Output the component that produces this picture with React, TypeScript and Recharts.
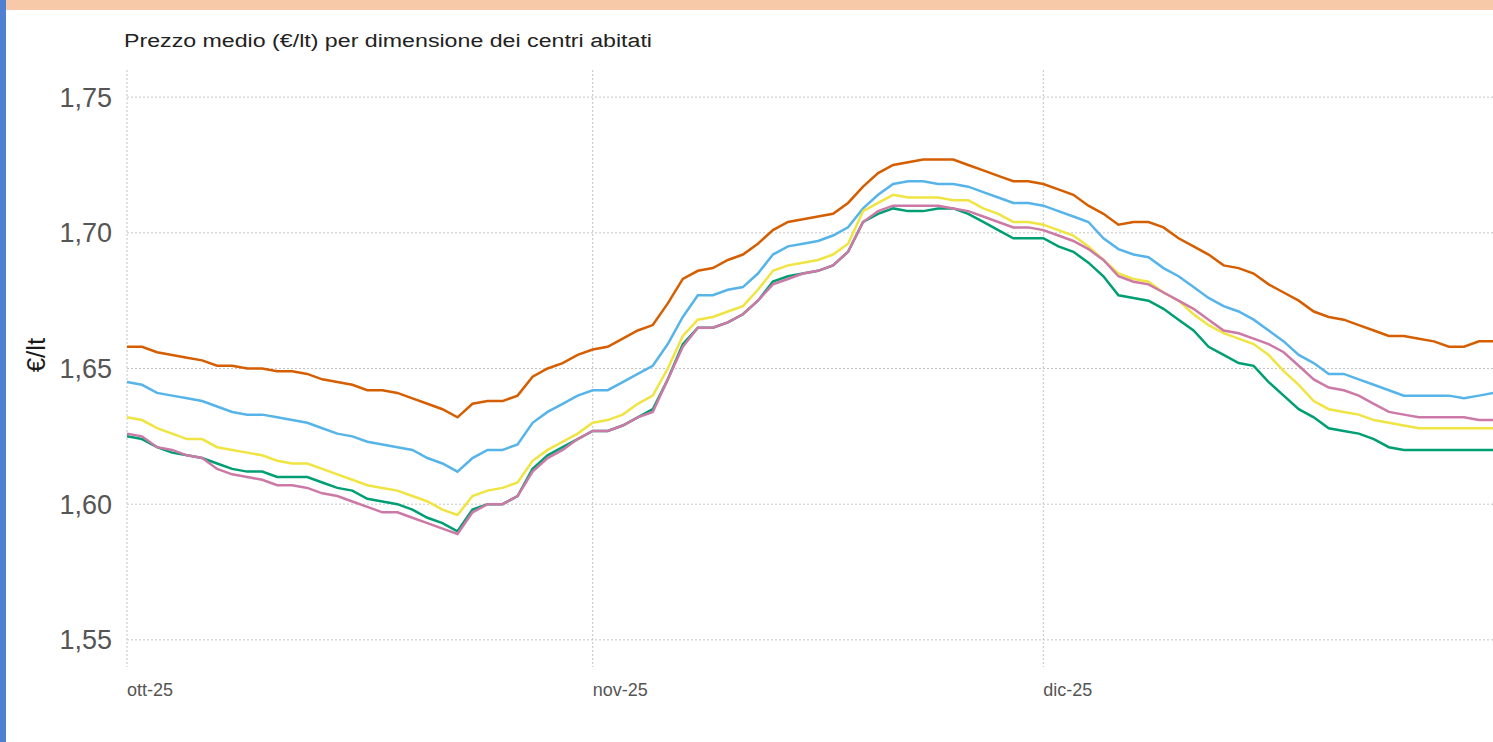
import React from 'react';
import { LineChart, Line, XAxis, YAxis, CartesianGrid } from 'recharts';

const tickDays = [0, 31, 61];
const tickLabels = ['ott-25', 'nov-25', 'dic-25'];
const yTicks = [1.55, 1.6, 1.65, 1.7, 1.75];

const seriesNames = ['Serie arancione', 'Serie azzurra', 'Serie gialla', 'Serie verde', 'Serie rosa'];

const orange = [
  1.658, 1.658, 1.656, 1.655, 1.654, 1.653, 1.651, 1.651, 1.650, 1.650,
  1.649, 1.649, 1.648, 1.646, 1.645, 1.644, 1.642, 1.642, 1.641, 1.639,
  1.637, 1.635, 1.632, 1.637, 1.638, 1.638, 1.640, 1.647, 1.650, 1.652,
  1.655, 1.657, 1.658, 1.661, 1.664, 1.666, 1.674, 1.683, 1.686, 1.687,
  1.690, 1.692, 1.696, 1.701, 1.704, 1.705, 1.706, 1.707, 1.711, 1.717,
  1.722, 1.725, 1.726, 1.727, 1.727, 1.727, 1.725, 1.723, 1.721, 1.719,
  1.719, 1.718, 1.716, 1.714, 1.710, 1.707, 1.703, 1.704, 1.704, 1.702,
  1.698, 1.695, 1.692, 1.688, 1.687, 1.685, 1.681, 1.678, 1.675, 1.671,
  1.669, 1.668, 1.666, 1.664, 1.662, 1.662, 1.661, 1.660, 1.658, 1.658,
  1.660, 1.660,
];

const blue = [
  1.645, 1.644, 1.641, 1.640, 1.639, 1.638, 1.636, 1.634, 1.633, 1.633,
  1.632, 1.631, 1.630, 1.628, 1.626, 1.625, 1.623, 1.622, 1.621, 1.620,
  1.617, 1.615, 1.612, 1.617, 1.620, 1.620, 1.622, 1.630, 1.634, 1.637,
  1.640, 1.642, 1.642, 1.645, 1.648, 1.651, 1.659, 1.669, 1.677, 1.677,
  1.679, 1.680, 1.685, 1.692, 1.695, 1.696, 1.697, 1.699, 1.702, 1.709,
  1.714, 1.718, 1.719, 1.719, 1.718, 1.718, 1.717, 1.715, 1.713, 1.711,
  1.711, 1.710, 1.708, 1.706, 1.704, 1.698, 1.694, 1.692, 1.691, 1.687,
  1.684, 1.680, 1.676, 1.673, 1.671, 1.668, 1.664, 1.660, 1.655, 1.652,
  1.648, 1.648, 1.646, 1.644, 1.642, 1.640, 1.640, 1.640, 1.640, 1.639,
  1.640, 1.641,
];

const yellow = [
  1.632, 1.631, 1.628, 1.626, 1.624, 1.624, 1.621, 1.620, 1.619, 1.618,
  1.616, 1.615, 1.615, 1.613, 1.611, 1.609, 1.607, 1.606, 1.605, 1.603,
  1.601, 1.598, 1.596, 1.603, 1.605, 1.606, 1.608, 1.616, 1.620, 1.623,
  1.626, 1.630, 1.631, 1.633, 1.637, 1.640, 1.650, 1.662, 1.668, 1.669,
  1.671, 1.673, 1.679, 1.686, 1.688, 1.689, 1.690, 1.692, 1.696, 1.708,
  1.711, 1.714, 1.713, 1.713, 1.713, 1.712, 1.712, 1.709, 1.707, 1.704,
  1.704, 1.703, 1.701, 1.699, 1.695, 1.690, 1.685, 1.683, 1.682, 1.678,
  1.675, 1.670, 1.666, 1.663, 1.661, 1.659, 1.655, 1.649, 1.644, 1.638,
  1.635, 1.634, 1.633, 1.631, 1.630, 1.629, 1.628, 1.628, 1.628, 1.628,
  1.628, 1.628,
];

const pink = [
  1.626, 1.625, 1.621, 1.620, 1.618, 1.617, 1.613, 1.611, 1.610, 1.609,
  1.607, 1.607, 1.606, 1.604, 1.603, 1.601, 1.599, 1.597, 1.597, 1.595,
  1.593, 1.591, 1.589, 1.597, 1.600, 1.600, 1.603, 1.612, 1.617, 1.620,
  1.624, 1.627, 1.627, 1.629, 1.632, 1.634, 1.646, 1.658, 1.665, 1.665,
  1.667, 1.670, 1.675, 1.681, 1.683, 1.685, 1.686, 1.688, 1.693, 1.704,
  1.708, 1.710, 1.710, 1.710, 1.710, 1.709, 1.708, 1.706, 1.704, 1.702,
  1.702, 1.701, 1.699, 1.697, 1.694, 1.690, 1.684, 1.682, 1.681, 1.678,
  1.675, 1.672, 1.668, 1.664, 1.663, 1.661, 1.659, 1.656, 1.651, 1.646,
  1.643, 1.642, 1.640, 1.637, 1.634, 1.633, 1.632, 1.632, 1.632, 1.632,
  1.631, 1.631,
];

const green = [
  1.625, 1.624, 1.621, 1.619, 1.618, 1.617, 1.615, 1.613, 1.612, 1.612,
  1.610, 1.610, 1.610, 1.608, 1.606, 1.605, 1.602, 1.601, 1.600, 1.598,
  1.595, 1.593, 1.590, 1.598, 1.600, 1.600, 1.603, 1.613, 1.618, 1.621,
  1.624, 1.627, 1.627, 1.629, 1.632, 1.635, 1.646, 1.659, 1.665, 1.665,
  1.667, 1.670, 1.675, 1.682, 1.684, 1.685, 1.686, 1.688, 1.693, 1.704,
  1.707, 1.709, 1.708, 1.708, 1.709, 1.709, 1.707, 1.704, 1.701, 1.698,
  1.698, 1.698, 1.695, 1.693, 1.689, 1.684, 1.677, 1.676, 1.675, 1.672,
  1.668, 1.664, 1.658, 1.655, 1.652, 1.651, 1.645, 1.640, 1.635, 1.632,
  1.628, 1.627, 1.626, 1.624, 1.621, 1.620, 1.620, 1.620, 1.620, 1.620,
  1.620, 1.620,
];

const data = orange.map((_, i) => ({
  day: i,
  orange: orange[i],
  blue: blue[i],
  yellow: yellow[i],
  green: green[i],
  pink: pink[i],
}));

const FONT = '"Liberation Sans", Arial, Helvetica, sans-serif';

const XTick = (props: any) => {
  const { x, y, payload } = props;
  const idx = tickDays.indexOf(payload.value);
  return (
    <text x={x} y={y} dy="0.71em" textAnchor="start" fontSize={18} fill="#555" fontFamily={FONT}>
      {idx >= 0 ? tickLabels[idx] : ''}
    </text>
  );
};

export default function App() {
  return (
    <div
      style={{
        position: 'absolute',
        left: 0,
        top: 0,
        width: 1493,
        height: 742,
        overflow: 'hidden',
        background: '#ffffff',
      }}
    >
      <div style={{ position: 'absolute', left: 0, top: 0, width: 1493, height: 10, background: '#F7C9A8' }} />
      <div style={{ position: 'absolute', left: 0, top: 0, width: 6, height: 742, background: '#4F7FD3' }} />
      <svg style={{ position: 'absolute', left: 0, top: 0 }} width={700} height={742}>
        <text
          x={124}
          y={47}
          fontSize={18}
          fill="#222"
          fontFamily={FONT}
          textLength={528}
          lengthAdjust="spacingAndGlyphs"
        >
          Prezzo medio (€/lt) per dimensione dei centri abitati
        </text>
        <text
          x={45}
          y={355}
          transform="rotate(-90, 45, 355)"
          textAnchor="middle"
          fontSize={26}
          fill="#1a1a1a"
          fontFamily={FONT}
        >
          €/lt
        </text>
      </svg>
      <div style={{ position: 'absolute', left: 0, top: 0 }}>
        <LineChart
          width={1500}
          height={742}
          data={data}
          margin={{ top: 70, right: 6, bottom: 35, left: 57 }}
        >
          <CartesianGrid stroke="#c4c4c4" strokeDasharray="2 2" syncWithTicks />
          <XAxis
            dataKey="day"
            type="number"
            domain={[0, 91]}
            ticks={tickDays}
            tick={<XTick />}
            tickLine={false}
            axisLine={false}
            tickSize={0}
            tickMargin={16}
            height={40}
            interval={0}
          />
          <YAxis
            type="number"
            domain={[1.54, 1.76]}
            ticks={yTicks}
            width={70}
            tickLine={false}
            axisLine={false}
            tickSize={0}
            tickMargin={15}
            allowDataOverflow
            interval={0}
            tick={{ fontSize: 27, fill: '#555', fontFamily: FONT }}
            tickFormatter={(v: number) => v.toFixed(2).replace('.', ',')}
          />
          <Line dataKey="orange" name={seriesNames[0]} stroke="#D55E00" strokeWidth={2.5} dot={false} isAnimationActive={false} />
          <Line dataKey="blue" name={seriesNames[1]} stroke="#56B4E9" strokeWidth={2.5} dot={false} isAnimationActive={false} />
          <Line dataKey="yellow" name={seriesNames[2]} stroke="#F0E442" strokeWidth={2.5} dot={false} isAnimationActive={false} />
          <Line dataKey="green" name={seriesNames[3]} stroke="#009E73" strokeWidth={2.5} dot={false} isAnimationActive={false} />
          <Line dataKey="pink" name={seriesNames[4]} stroke="#CC79A7" strokeWidth={2.5} dot={false} isAnimationActive={false} />
        </LineChart>
      </div>
    </div>
  );
}
